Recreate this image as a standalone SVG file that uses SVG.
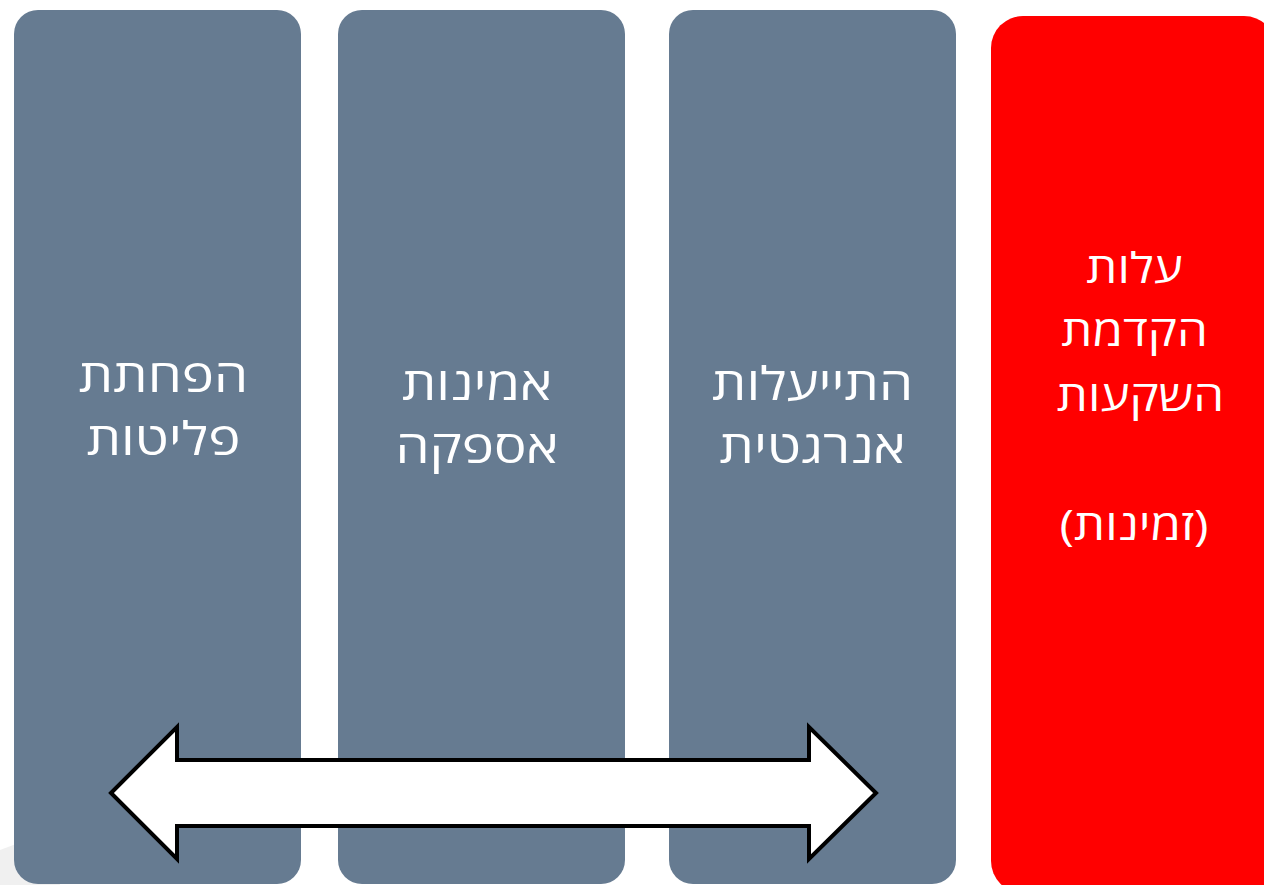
<svg xmlns="http://www.w3.org/2000/svg" width="1264" height="885" viewBox="0 0 1264 885">
<style>
.box{fill:#667b91}
.red{fill:#ff0000}
.t{font-family:"Open Sans","DejaVu Sans",sans-serif;font-size:46px;fill:#ffffff;text-anchor:middle}
.r{font-size:42px}
.arrow{fill:#ffffff;stroke:#000000;stroke-width:4;stroke-linejoin:miter}
</style>
<rect width="1264" height="885" fill="#ffffff"/>
<path d="M0,850 L40,835 L60,885 L0,885 Z" fill="#f0f0f0"/>
<g id="node-pollution">
<rect class="box" x="14" y="10" width="287" height="874" rx="24"/>
<text class="t" direction="rtl" transform="translate(163.5,392) scale(1.18,1)">הפחתת</text>
<text class="t" direction="rtl" transform="translate(163.5,455) scale(1.18,1)">פליטות</text>
</g>
<g id="node-supply">
<rect class="box" x="338" y="10" width="287" height="874" rx="24"/>
<text class="t" direction="rtl" transform="translate(477,400) scale(1.18,1)">אמינות</text>
<text class="t" direction="rtl" transform="translate(477,463) scale(1.18,1)">אספקה</text>
</g>
<g id="node-efficiency">
<rect class="box" x="669" y="10" width="287" height="874" rx="24"/>
<text class="t" direction="rtl" transform="translate(812.5,400) scale(1.18,1)">התייעלות</text>
<text class="t" direction="rtl" transform="translate(812.5,463) scale(1.18,1)">אנרגטית</text>
</g>
<g id="node-cost">
<rect class="red" x="991" y="16" width="285" height="877" rx="32"/>
<text class="t r" direction="rtl" transform="translate(1134.5,283) scale(1.17,1)">עלות</text>
<text class="t r" direction="rtl" transform="translate(1134.5,346) scale(1.17,1)">הקדמת</text>
<text class="t r" direction="rtl" transform="translate(1140.5,411) scale(1.17,1)">השקעות</text>
<text class="t r" direction="rtl" transform="translate(1134,540) scale(1.17,1)">(זמינות)</text>
</g>
<g id="connectors">
<polygon class="arrow" points="111,793 177,727 177,760 809,760 809,727 876,793 809,859 809,826 177,826 177,859"/>
</g>
</svg>
